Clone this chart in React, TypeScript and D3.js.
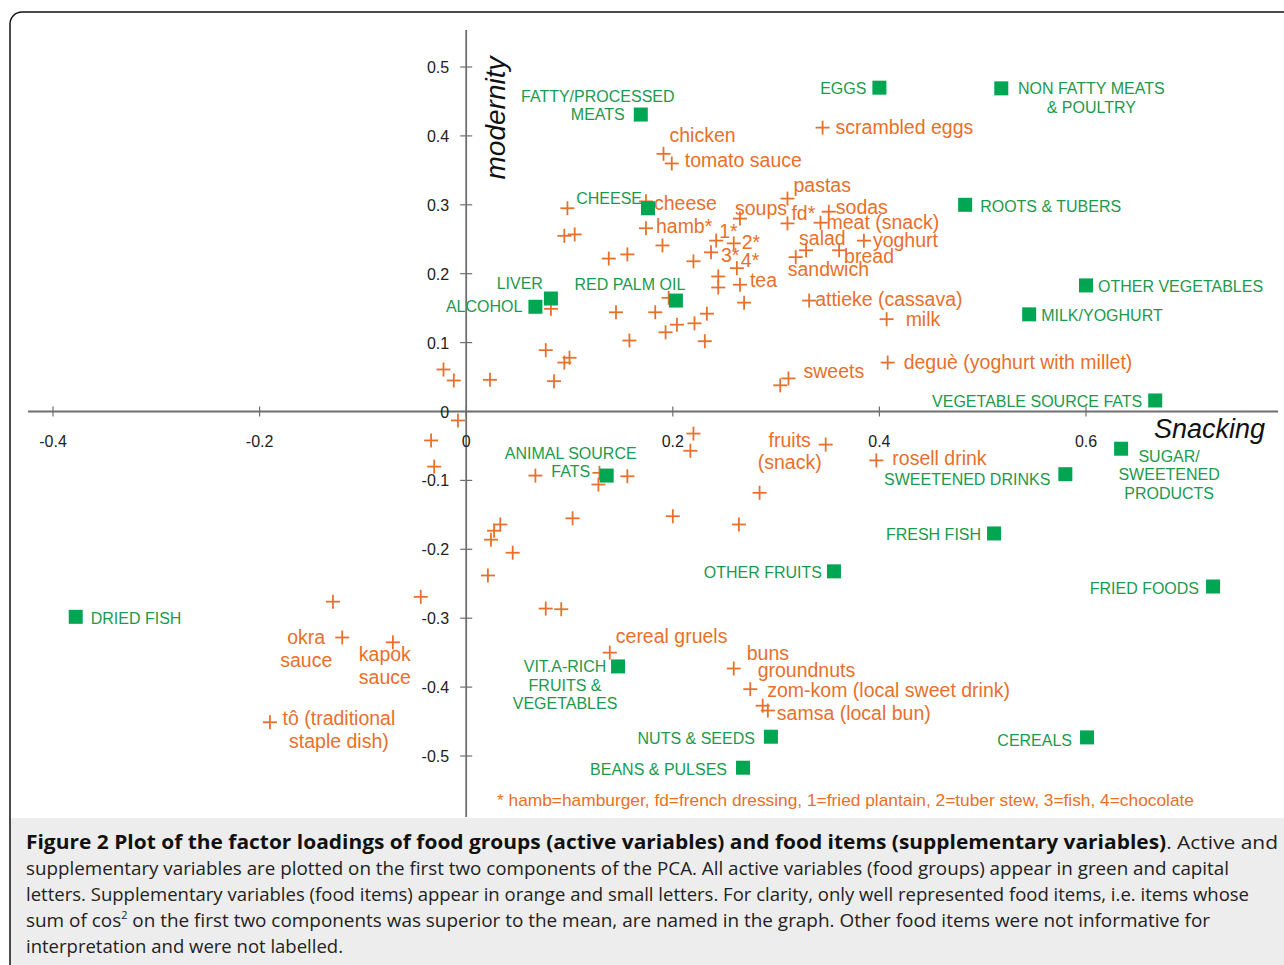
import React, { useEffect, useRef } from 'react';
import * as d3 from 'd3';

// food groups (active variables)
const activeNames = [
  'EGGS', 'NON FATTY MEATS\n& POULTRY', 'FATTY/PROCESSED\nMEATS', 'ROOTS & TUBERS', 'CHEESE',
  'OTHER VEGETABLES', 'LIVER', 'ALCOHOL', 'RED PALM OIL', 'MILK/YOGHURT', 'VEGETABLE SOURCE FATS',
  'SUGAR/\nSWEETENED\nPRODUCTS', 'ANIMAL SOURCE\nFATS', 'SWEETENED DRINKS', 'FRESH FISH',
  'OTHER FRUITS', 'FRIED FOODS', 'DRIED FISH', 'VIT.A-RICH\nFRUITS &\nVEGETABLES', 'NUTS & SEEDS',
  'CEREALS', 'BEANS & PULSES',
];
const activeX = [0.400, 0.518, 0.169, 0.483, 0.176, 0.600, 0.082, 0.067, 0.203, 0.545, 0.667,
  0.634, 0.136, 0.580, 0.511, 0.356, 0.723, -0.378, 0.147, 0.295, 0.601, 0.268];
const activeY = [0.470, 0.469, 0.431, 0.300, 0.295, 0.183, 0.164, 0.152, 0.161, 0.141, 0.016,
  -0.054, -0.093, -0.091, -0.177, -0.232, -0.254, -0.298, -0.370, -0.472, -0.473, -0.517];

// food items (supplementary variables), '' = not labelled
const itemNames = [
  'scrambled eggs', 'chicken', 'tomato sauce', 'pastas', 'soups', 'fd*', 'sodas', 'meat (snack)',
  'cheese', 'hamb*', '1*', '2*', '3*', '4*', 'tea', 'salad', 'sandwich', 'bread', 'yoghurt',
  'attieke (cassava)', 'milk', 'deguè (yoghurt with millet)', 'sweets', 'fruits\n(snack)',
  'rosell drink', 'cereal gruels', 'buns', 'groundnuts', 'zom-kom (local sweet drink)',
  'samsa (local bun)', 'okra\nsauce', 'kapok\nsauce', 'tô (traditional\nstaple dish)',
  '', '', '', '', '', '', '', '', '', '', '', '', '', '', '', '', '', '', '', '', '', '', '', '', '',
  '', '', '', '', '', '', '', '', '', '', '', '', '', '', '', '', '', '', '', '', '', '', '', '', '',
];
const itemX = [
  0.345, 0.191, 0.199, 0.311, 0.265, 0.311, 0.351, 0.343, 0.174, 0.174, 0.242, 0.259, 0.237, 0.262,
  0.265, 0.329, 0.319, 0.361, 0.385, 0.332, 0.407, 0.408, 0.312, 0.348, 0.397, 0.139, 0.259, 0.287,
  0.275, 0.292, -0.120, -0.071, -0.190,
  0.098, 0.095, 0.105, 0.190, 0.138, 0.156, 0.220, 0.196, 0.145, 0.183, 0.082, 0.233, 0.158, 0.193,
  0.204, 0.221, 0.231, 0.244, 0.244, 0.269, 0.077, 0.095, 0.100, 0.085, -0.022, -0.012, 0.023, 0.304,
  -0.008, -0.034, -0.031, 0.067, 0.129, 0.128, 0.156, 0.220, 0.217, 0.284, 0.103, 0.200, 0.264, 0.033,
  0.027, 0.024, 0.045, 0.021, 0.077, 0.092, -0.129, -0.044,
];
const itemY = [
  0.412, 0.374, 0.360, 0.309, 0.280, 0.273, 0.290, 0.274, 0.305, 0.266, 0.248, 0.244, 0.231, 0.208,
  0.184, 0.234, 0.224, 0.234, 0.248, 0.161, 0.134, 0.071, 0.048, -0.048, -0.071, -0.350, -0.373, -0.427,
  -0.403, -0.434, -0.328, -0.335, -0.451,
  0.295, 0.255, 0.257, 0.241, 0.222, 0.228, 0.218, 0.165, 0.144, 0.144, 0.149, 0.142, 0.103, 0.115,
  0.126, 0.128, 0.102, 0.196, 0.180, 0.158, 0.089, 0.071, 0.078, 0.044, 0.061, 0.045, 0.046, 0.038,
  -0.013, -0.042, -0.080, -0.093, -0.089, -0.106, -0.094, -0.032, -0.057, -0.118, -0.155, -0.152, -0.164, -0.164,
  -0.173, -0.186, -0.205, -0.238, -0.286, -0.287, -0.276, -0.269,
];

const xTicks = [-0.4, -0.2, 0, 0.2, 0.4, 0.6];
const yTicks = [-0.5, -0.4, -0.3, -0.2, -0.1, 0, 0.1, 0.2, 0.3, 0.4, 0.5];

const footnote = '* hamb=hamburger, fd=french dressing, 1=fried plantain, 2=tuber stew, 3=fish, 4=chocolate';

// label placement, offsets in px from the marker
type Place = [string, number, number];
const greenPlace: Record<string, Place> = {
  'EGGS': ['end', -13, 6],
  'NON FATTY MEATS\n& POULTRY': ['middle', 90, 6],
  'FATTY/PROCESSED\nMEATS': ['middle', -43, -13],
  'ROOTS & TUBERS': ['start', 15, 7],
  'CHEESE': ['end', -6, -4],
  'OTHER VEGETABLES': ['start', 12, 7],
  'LIVER': ['end', -8, -10],
  'ALCOHOL': ['end', -13, 5],
  'RED PALM OIL': ['middle', -46, -11],
  'MILK/YOGHURT': ['start', 12, 7],
  'VEGETABLE SOURCE FATS': ['end', -13, 7],
  'SUGAR/\nSWEETENED\nPRODUCTS': ['middle', 48, 13],
  'ANIMAL SOURCE\nFATS': ['middle', -36, -17],
  'SWEETENED DRINKS': ['end', -15, 11],
  'FRESH FISH': ['end', -13, 7],
  'OTHER FRUITS': ['end', -12, 7],
  'FRIED FOODS': ['end', -14, 7],
  'DRIED FISH': ['start', 15, 7],
  'VIT.A-RICH\nFRUITS &\nVEGETABLES': ['middle', -53, 6],
  'NUTS & SEEDS': ['end', -16, 7],
  'CEREALS': ['end', -15, 9],
  'BEANS & PULSES': ['end', -16, 7],
};
const orangePlace: Record<string, Place> = {
  'scrambled eggs': ['start', 13, 6],
  'chicken': ['start', 6, -12],
  'tomato sauce': ['start', 13, 4],
  'pastas': ['start', 6, -7],
  'soups': ['start', -5, -4],
  'fd*': ['start', 4, -3],
  'sodas': ['start', 7, 2],
  'meat (snack)': ['start', 6, 6],
  'cheese': ['start', 8, 9],
  'hamb*': ['start', 10, 5],
  '1*': ['start', 3, -3],
  '2*': ['start', 8, 6],
  '3*': ['start', 10, 10],
  '4*': ['start', 4, -1],
  'tea': ['start', 10, 2],
  'salad': ['start', -7, -5],
  'sandwich': ['start', -8, 19],
  'bread': ['start', 5, 13],
  'yoghurt': ['start', 9, 6],
  'attieke (cassava)': ['start', 6, 5],
  'milk': ['start', 19, 7],
  'deguè (yoghurt with millet)': ['start', 16, 6],
  'sweets': ['start', 15, 0],
  'fruits\n(snack)': ['middle', -36, 2],
  'rosell drink': ['start', 16, 5],
  'cereal gruels': ['start', 6, -10],
  'buns': ['start', 13, -8],
  'groundnuts': ['start', -5, -29],
  'zom-kom (local sweet drink)': ['start', 17, 8],
  'samsa (local bun)': ['start', 9, 9],
  'okra\nsauce': ['middle', -36, 7],
  'kapok\nsauce': ['middle', -8, 19],
  'tô (traditional\nstaple dish)': ['middle', 69, 3],
};

const GREEN = '#00a651';
const GREEN_TEXT = '#1b9a4c';
const ORANGE = '#e8702a';
const FONT = '"Liberation Sans", Arial, sans-serif';

export default function App() {
  const svgRef = useRef<SVGSVGElement>(null);

  useEffect(() => {
    if (!svgRef.current) return;
    const svg = d3.select(svgRef.current);
    svg.selectAll('*').remove();

    const x = d3.scaleLinear().domain([-0.4, 0.6]).range([53, 1086]);
    const y = d3.scaleLinear().domain([-0.5, 0.5]).range([756, 67]);

    // frame + caption background
    svg.append('rect').attr('x', 11).attr('y', 818).attr('width', 1290).attr('height', 160).attr('fill', '#ededed');
    svg.append('rect')
      .attr('x', 10).attr('y', 12).attr('width', 1300).attr('height', 1000).attr('rx', 12)
      .attr('fill', 'none').attr('stroke', '#111').attr('stroke-width', 1.5);

    // axes
    const axisG = svg.append('g').attr('stroke', '#6e6e6e').attr('stroke-width', 1.8);
    axisG.append('line').attr('x1', 28).attr('x2', 1278).attr('y1', y(0)).attr('y2', y(0));
    axisG.append('line').attr('x1', x(0)).attr('x2', x(0)).attr('y1', 30).attr('y2', 817);
    axisG.selectAll('.xt').data(xTicks).enter().append('line')
      .attr('x1', d => x(d)).attr('x2', d => x(d)).attr('y1', y(0) - 5).attr('y2', y(0) + 5)
      .attr('stroke-width', 1.2);
    axisG.selectAll('.yt').data(yTicks).enter().append('line')
      .attr('x1', x(0) - 6).attr('x2', x(0) + 6).attr('y1', d => y(d)).attr('y2', d => y(d))
      .attr('stroke-width', 1.2);

    const tickText = svg.append('g').attr('font-family', FONT).attr('font-size', 16).attr('fill', '#222');
    tickText.selectAll('.xl').data(xTicks).enter().append('text')
      .attr('x', d => x(d)).attr('y', y(0) + 35).attr('text-anchor', 'middle')
      .text(d => String(d));
    tickText.selectAll('.yl').data(yTicks).enter().append('text')
      .attr('x', x(0) - 17).attr('y', d => y(d) + 6).attr('text-anchor', 'end')
      .text(d => String(d));

    // axis titles
    svg.append('text')
      .attr('transform', `translate(${x(0) + 39},118) rotate(-90)`)
      .attr('text-anchor', 'middle').attr('font-family', FONT).attr('font-style', 'italic')
      .attr('font-size', 28).attr('fill', '#111').text('modernity');
    svg.append('text')
      .attr('x', 1265).attr('y', 438).attr('text-anchor', 'end').attr('font-family', FONT)
      .attr('font-style', 'italic').attr('font-size', 27).attr('fill', '#111').text('Snacking');

    // supplementary crosses
    const items = itemNames.map((n, i) => ({ name: n, x: itemX[i], y: itemY[i] }));
    const cross = svg.append('g').attr('stroke', ORANGE).attr('stroke-width', 1.8);
    items.forEach(d => {
      cross.append('line').attr('x1', x(d.x) - 7).attr('x2', x(d.x) + 7).attr('y1', y(d.y)).attr('y2', y(d.y));
      cross.append('line').attr('x1', x(d.x)).attr('x2', x(d.x)).attr('y1', y(d.y) - 7).attr('y2', y(d.y) + 7);
    });

    const multi = (g: any, name: string, place: Place, px: number, py: number, lh: number) => {
      const t = g.append('text').attr('text-anchor', place[0]);
      name.split('\n').forEach((line, k) => {
        t.append('tspan').attr('x', px + place[1]).attr('y', py + place[2] + k * lh).text(line);
      });
    };

    const oLabels = svg.append('g').attr('font-family', FONT).attr('font-size', 19.5).attr('fill', ORANGE);
    items.filter(d => d.name).forEach(d => {
      multi(oLabels, d.name, orangePlace[d.name], x(d.x), y(d.y), 22.5);
    });

    // active squares
    const actives = activeNames.map((n, i) => ({ name: n, x: activeX[i], y: activeY[i] }));
    svg.append('g').selectAll('rect').data(actives).enter().append('rect')
      .attr('x', d => x(d.x) - 7).attr('y', d => y(d.y) - 7).attr('width', 14).attr('height', 14)
      .attr('fill', GREEN);
    const gLabels = svg.append('g').attr('font-family', FONT).attr('font-size', 16).attr('fill', GREEN_TEXT);
    actives.forEach(d => {
      multi(gLabels, d.name, greenPlace[d.name], x(d.x), y(d.y), 18.5);
    });

    svg.append('text').attr('x', 497).attr('y', 806).attr('font-family', FONT).attr('font-size', 17)
      .attr('textLength', 697).attr('lengthAdjust', 'spacingAndGlyphs')
      .attr('fill', ORANGE).text(footnote);

    // caption
    const cap = svg.append('g').attr('font-family', '"Open Sans", sans-serif').attr('font-size', 19).attr('fill', '#222');
    const l1 = cap.append('text').attr('x', 26).attr('y', 849).attr('textLength', 1252).attr('lengthAdjust', 'spacingAndGlyphs');
    l1.append('tspan').attr('font-weight', 'bold').attr('fill', '#111')
      .text('Figure 2 Plot of the factor loadings of food groups (active variables) and food items (supplementary variables)');
    l1.append('tspan').text('. Active and');
    cap.append('text').attr('x', 26).attr('y', 875).attr('textLength', 1203).attr('lengthAdjust', 'spacingAndGlyphs')
      .text('supplementary variables are plotted on the first two components of the PCA. All active variables (food groups) appear in green and capital');
    cap.append('text').attr('x', 26).attr('y', 901).attr('textLength', 1223).attr('lengthAdjust', 'spacingAndGlyphs')
      .text('letters. Supplementary variables (food items) appear in orange and small letters. For clarity, only well represented food items, i.e. items whose');
    const l4 = cap.append('text').attr('x', 26).attr('y', 927).attr('textLength', 1184).attr('lengthAdjust', 'spacingAndGlyphs');
    l4.append('tspan').text('sum of cos');
    l4.append('tspan').attr('font-size', 11).attr('dy', -8).text('2');
    l4.append('tspan').attr('dy', 8).text(' on the first two components was superior to the mean, are named in the graph. Other food items were not informative for');
    cap.append('text').attr('x', 26).attr('y', 953).attr('textLength', 317).attr('lengthAdjust', 'spacingAndGlyphs')
      .text('interpretation and were not labelled.');
  }, []);

  return (
    <svg ref={svgRef} width={1284} height={965} style={{ position: 'absolute', left: 0, top: 0, background: '#fff' }} />
  );
}
